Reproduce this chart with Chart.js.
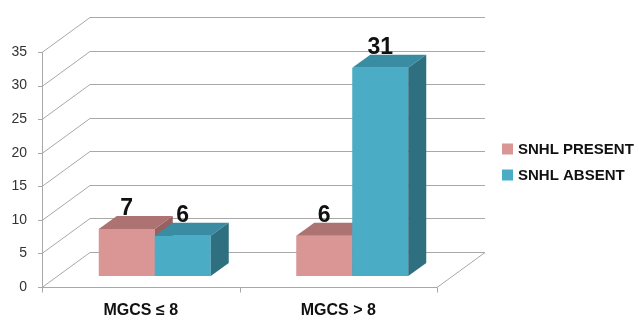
<!DOCTYPE html>
<html>
<head>
<meta charset="utf-8">
<script src="https://cdn.jsdelivr.net/npm/chart.js@4"></script>
<style>
  html, body { margin: 0; padding: 0; background: #fff; }
  #wrap { width: 639px; height: 320px; }
</style>
</head>
<body>
<div id="wrap"><canvas id="myChart"></canvas></div>
<script>
const categories = ['MGCS \u2264 8', 'MGCS > 8'];
const seriesNames = ['SNHL PRESENT', 'SNHL ABSENT'];
const snhlPresent = [7, 6];
const snhlAbsent = [6, 31];
const yTicks = [0, 5, 10, 15, 20, 25, 30, 35];

// face colours: front, top, side
const shades = [
    ['#D99694', '#AD7372', '#98605E'],
    ['#4BACC6', '#3A8CA3', '#2E6F80']
];

// wall depth and bar depth (px)
const WALL_DX = 48, WALL_DY = -35;
const BAR_SX = 14, BAR_SY = -11;
const BAR_DX = 18, BAR_DY = -13;
const GRID = '#a8a8a8';

const threeD = {
    id: 'threeD',
    beforeDatasetsDraw(chart) {
        const ctx = chart.ctx;
        const a = chart.chartArea;
        const ys = chart.scales.y;
        ctx.save();
        ctx.strokeStyle = GRID;
        ctx.lineWidth = 1;
        yTicks.forEach(v => {
            const y = Math.round(ys.getPixelForValue(v)) + 0.5;
            ctx.beginPath();
            ctx.moveTo(a.left - 4, y);
            ctx.lineTo(a.left, y);
            ctx.lineTo(a.left + WALL_DX, y + WALL_DY);
            ctx.lineTo(a.right + WALL_DX, y + WALL_DY);
            ctx.stroke();
        });
        const b = Math.round(a.bottom) + 0.5;
        ctx.beginPath();
        ctx.moveTo(a.left + 0.5, a.top);
        ctx.lineTo(a.left + 0.5, b);
        ctx.lineTo(a.right, b);
        ctx.lineTo(a.right + WALL_DX, b + WALL_DY);
        ctx.stroke();
        [a.left, (a.left + a.right) / 2, a.right].forEach(x => {
            ctx.beginPath();
            ctx.moveTo(Math.round(x) + 0.5, b);
            ctx.lineTo(Math.round(x) + 0.5, b + 5);
            ctx.stroke();
        });

        // bars, category by category so later bars hide earlier sides
        categories.forEach((c, i) => {
            chart.data.datasets.forEach((ds, d) => {
                const el = chart.getDatasetMeta(d).data[i];
                const p = el.getProps(['x', 'y', 'base', 'width'], true);
                const x0 = p.x - p.width / 2 + BAR_SX;
                const x1 = p.x + p.width / 2 + BAR_SX;
                const yt = p.y + BAR_SY;
                const yb = p.base + BAR_SY;
                const col = shades[d];
                ctx.fillStyle = col[0];
                ctx.fillRect(x0, yt, x1 - x0, yb - yt);
                ctx.fillStyle = col[1];
                ctx.beginPath();
                ctx.moveTo(x0, yt);
                ctx.lineTo(x0 + BAR_DX, yt + BAR_DY);
                ctx.lineTo(x1 + BAR_DX, yt + BAR_DY);
                ctx.lineTo(x1, yt);
                ctx.closePath();
                ctx.fill();
                ctx.fillStyle = col[2];
                ctx.beginPath();
                ctx.moveTo(x1, yt);
                ctx.lineTo(x1 + BAR_DX, yt + BAR_DY);
                ctx.lineTo(x1 + BAR_DX, yb + BAR_DY);
                ctx.lineTo(x1, yb);
                ctx.closePath();
                ctx.fill();
            });
        });
        ctx.restore();
    },
    beforeDatasetDraw() {
        return false;
    },
    afterDatasetsDraw(chart) {
        const ctx = chart.ctx;
        ctx.save();
        ctx.fillStyle = '#111';
        ctx.textAlign = 'center';
        ctx.textBaseline = 'alphabetic';
        ctx.font = 'bold 23px "Liberation Sans", Arial, sans-serif';
        chart.data.datasets.forEach((ds, d) => {
            chart.getDatasetMeta(d).data.forEach((el, i) => {
                const p = el.getProps(['x', 'y'], true);
                ctx.fillText(String(ds.data[i]), p.x + BAR_SX, p.y + BAR_SY - 14);
            });
        });

        // legend
        ctx.textAlign = 'left';
        ctx.textBaseline = 'middle';
        ctx.font = 'bold 15px "Liberation Sans", Arial, sans-serif';
        chart.data.datasets.forEach((ds, d) => {
            const cy = 149 + d * 26;
            ctx.fillStyle = ds.backgroundColor;
            ctx.fillRect(502, cy - 5.5, 11, 11);
            ctx.fillStyle = '#111';
            ctx.fillText(ds.label, 518, cy + 1);
        });
        ctx.restore();
    }
};

new Chart(document.getElementById('myChart'), {
    type: 'bar',
    data: {
        labels: categories,
        datasets: [{
            label: seriesNames[0],
            data: snhlPresent,
            backgroundColor: shades[0][0]
        }, {
            label: seriesNames[1],
            data: snhlAbsent,
            backgroundColor: shades[1][0]
        }]
    },
    options: {
        responsive: true,
        maintainAspectRatio: false,
        animation: false,
        layout: { padding: { top: 52, right: 202, left: 0, bottom: 0 } },
        categoryPercentage: 0.567,
        barPercentage: 1,
        plugins: { legend: { display: false }, tooltip: { enabled: false } },
        scales: {
            x: {
                grid: { display: false, drawTicks: false },
                border: { display: false },
                ticks: {
                    padding: 14,
                    color: '#111',
                    font: { family: '"Liberation Sans", Arial, sans-serif', size: 16, weight: 'bold' }
                },
                afterFit(s) { s.height = 33; }
            },
            y: {
                min: 0,
                max: 35,
                grid: { display: false, drawTicks: false },
                border: { display: false },
                afterBuildTicks(s) { s.ticks = yTicks.map(v => ({ value: v })); },
                ticks: {
                    padding: 15,
                    color: '#333',
                    font: { family: '"Liberation Sans", Arial, sans-serif', size: 14 }
                },
                afterFit(s) { s.width = 42; }
            }
        }
    },
    plugins: [threeD]
});
</script>
</body>
</html>
